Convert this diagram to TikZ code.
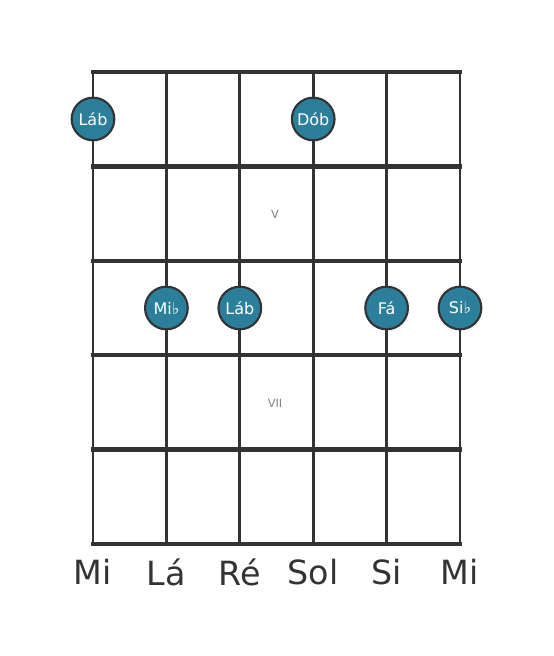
\documentclass[tikz,border=0pt]{standalone}
\usepackage{fontspec}
\setmainfont{DejaVu Sans}
\definecolor{fretgray}{HTML}{333333}
\definecolor{noteblue}{HTML}{2B7F9B}
\tikzset{
  note/.style={circle, draw=fretgray, line width=1.6pt, fill=noteblue, minimum size=32pt, inner sep=0pt,
    text=white, font=\fontsize{12}{14}\selectfont},
  fretnum/.style={text=gray, font=\fontsize{8.5}{10}\selectfont},
  stringname/.style={text=fretgray, font=\fontsize{25}{30}\selectfont}
}

\begin{document}
\begin{tikzpicture}[x=0.75pt, y=-0.75pt]
    \useasboundingbox (0,0) rectangle (553,656);
    % strings
    \foreach \s in {0,...,5}
        \draw[fretgray, line width=2.2pt] (93+73.4*\s,72) -- (93+73.4*\s,544);
    % frets
    \foreach \f in {0,...,5}
        \draw[fretgray, line width=3.4pt] (91,72+94.4*\f) -- (462,72+94.4*\f);
    \node[fretnum] (v) at (275,214) {V};
    \node[fretnum] (vii) at (275,403) {VII};
    % notes
    \node[note] (lab1) at (93,119) {Láb};
    \node[note] (dob) at (313.2,119) {Dób};
    \node[note] (mib) at (166.4,308) {Mi♭};
    \node[note] (lab2) at (239.8,308) {Láb};
    \node[note] (fa) at (386.6,308) {Fá};
    \node[note] (sib) at (460,308) {Si♭};
    % string names
    \node[stringname] (s1) at (93,572) {Mi};
    \node[stringname] (s2) at (166.4,572) {Lá};
    \node[stringname] (s3) at (239.8,572) {Ré};
    \node[stringname] (s4) at (313.2,572) {Sol};
    \node[stringname] (s5) at (386.6,572) {Si};
    \node[stringname] (s6) at (460,572) {Mi};
\end{tikzpicture}
\end{document}
